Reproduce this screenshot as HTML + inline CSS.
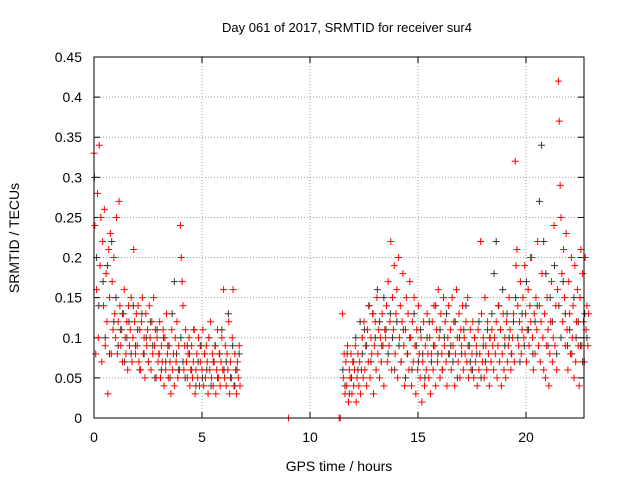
<!DOCTYPE html>
<html><head><meta charset="utf-8"><style>
body{margin:0;background:#fff;}
svg{display:block;font-family:"Liberation Sans",sans-serif;}
</style></head><body>
<svg id="chart" width="640" height="480">
<text x="347" y="32" font-size="13" text-anchor="middle">Day 061 of 2017, SRMTID for receiver sur4</text>
<text transform="translate(19,238) rotate(-90)" font-size="14" text-anchor="middle">SRMTID / TECUs</text>
<text x="339" y="471" font-size="14" text-anchor="middle">GPS time / hours</text>
<g id="grid"></g><g id="ticks"></g><g id="black"></g><g id="red"></g>
<rect x="94" y="57" width="490" height="361" fill="none" stroke="#000" stroke-width="1"/>
</svg>
<script>
const xTicks=[0,5,10,15,20];
const yTicks=[0,0.05,0.1,0.15,0.2,0.25,0.3,0.35,0.4,0.45];
const redStartA=0, redStepA=0.04;
const redA=[33,24,8,16,28,10,34,19,25,7,22,14,26,9,18,12,3,21,15,23,8,17,11,20,13,
10,25,8,12,27,14,9,11,7,13,16,10,8,12,6,14,9,11,15,7,10,21,12,8,13,
9,14,7,11,6,12,15,8,10,5,13,9,11,7,14,10,6,12,8,15,9,11,5,10,7,
8,12,5,9,7,11,4,10,6,13,8,5,9,7,3,11,6,8,4,10,7,12,5,9,6,
24,20,17,14,6,9,11,7,5,8,10,4,6,9,5,7,11,3,6,8,5,10,4,7,9,
6,11,4,8,5,9,7,3,10,6,12,5,8,4,7,9,3,6,11,5,8,4,7,10,6,
16,5,9,4,8,6,12,3,7,5,10,16,4,8,6,3,7,5,9,4];
const zeroTimes=[9.0,11.35,11.4];
const redStartB=11.5, redStepB=0.04;
const redB=[13,5,8,3,7,4,9,2,6,5,8,3,7,4,6,9,2,5,8,4,7,3,6,10,5,
12,6,9,4,11,7,14,5,10,8,13,3,9,12,6,15,8,11,5,10,7,13,9,4,11,
10,14,7,17,9,12,22,6,15,11,19,8,13,16,5,20,10,14,7,12,18,9,4,11,15,
8,13,6,17,10,4,12,7,15,9,3,11,6,14,8,5,10,2,7,12,4,9,6,13,8,
5,10,3,8,12,6,14,9,4,11,7,16,10,5,13,8,6,15,9,12,7,4,10,14,8,
11,6,15,9,12,4,8,16,10,7,13,5,11,9,14,6,10,8,12,7,15,5,9,11,6,
8,12,5,10,7,9,4,11,6,8,22,13,7,10,5,15,9,6,12,8,4,10,7,11,9,
6,10,8,12,5,9,14,7,11,4,8,13,6,10,5,12,7,9,15,11,6,8,10,13,7,
32,19,21,14,9,12,17,8,11,15,10,19,13,7,11,16,9,14,12,20,10,6,13,8,15,
11,22,9,14,7,12,18,10,6,13,5,9,15,11,4,8,12,17,7,10,24,9,14,6,16,
42,37,29,25,18,12,21,15,9,23,11,6,17,13,8,20,10,14,5,19,7,12,16,9,4,
15,21,9,18,12,7,20,11,14,9,13];
const blackStartA=0.02, blackStepA=0.1;
const blackA=[30,20,14,25,17,10,19,8,22,12,15,9,11,13,7,10,12,8,14,9,11,6,13,8,10,7,12,9,5,11,8,6,10,7,9,5,13,17,8,6,10,7,5,9,8,6,11,4,7,9,5,8,6,10,4,7,9,5,8,11,6,7,13,5,9,4,6,8];
const blackStartB=11.52, blackStepB=0.1;
const blackB=[6,4,8,3,5,7,10,6,12,8,11,9,14,7,13,10,16,12,9,15,11,8,13,10,6,12,9,7,11,5,8,10,6,13,9,7,11,8,5,10,12,7,9,14,8,11,6,10,13,8,9,7,12,5,10,8,11,14,9,7,6,10,8,12,5,9,7,11,10,13,18,22,14,11,16,9,13,10,8,12,15,10,7,13,9,17,11,20,8,12,14,27,34,22,18,9,15,12,19,8,14,10,17,13,9,11,8,15,10,12,9,7,13,10];
const NS='http://www.w3.org/2000/svg';
const X0=94,X1=584,Y0=418,Y1=57,XMAX=22.685,YMAX=0.45;
function sx(t){return X0+(X1-X0)*t/XMAX;}
function sy(v){return Y0-(Y0-Y1)*v/YMAX;}
function mk(tag,attrs,parent){const e=document.createElementNS(NS,tag);for(const k in attrs)e.setAttribute(k,attrs[k]);parent.appendChild(e);return e;}
const grid=document.getElementById('grid'),ticks=document.getElementById('ticks');
xTicks.forEach(t=>{const x=sx(t);
 if(t>0){const g=mk('line',{x1:x,y1:Y0,x2:x,y2:Y1,stroke:'#a0a0a0','stroke-dasharray':'1,2'},grid);
 
 }
 mk('line',{x1:x,y1:Y0,x2:x,y2:Y0-6,stroke:'#000'},ticks);
 mk('line',{x1:x,y1:Y1,x2:x,y2:Y1+6,stroke:'#000'},ticks);
 const l=mk('text',{x:x,y:442,'font-size':14,'text-anchor':'middle'},ticks);l.textContent=t;
 
 
});
yTicks.forEach(v=>{const y=sy(v);
 if(v>0){const g=mk('line',{x1:X0,y1:y,x2:X1,y2:y,stroke:'#a0a0a0','stroke-dasharray':'1,2'},grid);
 
 }
 mk('line',{x1:X0,y1:y,x2:X0+6,y2:y,stroke:'#000'},ticks);
 mk('line',{x1:X1,y1:y,x2:X1-6,y2:y,stroke:'#000'},ticks);
 const l=mk('text',{x:82,y:y+5,'font-size':14,'text-anchor':'end'},ticks);l.textContent=String(v);
 
 
});
function plus(g,t,v,c){const x=sx(t),y=sy(v);
 const p=mk('path',{d:`M${x-3.5},${y}H${x+3.5}M${x},${y-3.5}V${y+3.5}`,stroke:c,'stroke-width':1,fill:'none'},g);
 
 }
const bg=document.getElementById('black'),rg=document.getElementById('red');
blackA.forEach((v,i)=>plus(bg,blackStartA+i*blackStepA,v/100,'#333'));
blackB.forEach((v,i)=>plus(bg,blackStartB+i*blackStepB,v/100,'#333'));
redA.forEach((v,i)=>plus(rg,redStartA+i*redStepA,v/100,'#ff0000'));
redB.forEach((v,i)=>plus(rg,redStartB+i*redStepB,v/100,'#ff0000'));
zeroTimes.forEach(t=>plus(rg,t,0,'#ff0000'));
</script>
</body></html>
